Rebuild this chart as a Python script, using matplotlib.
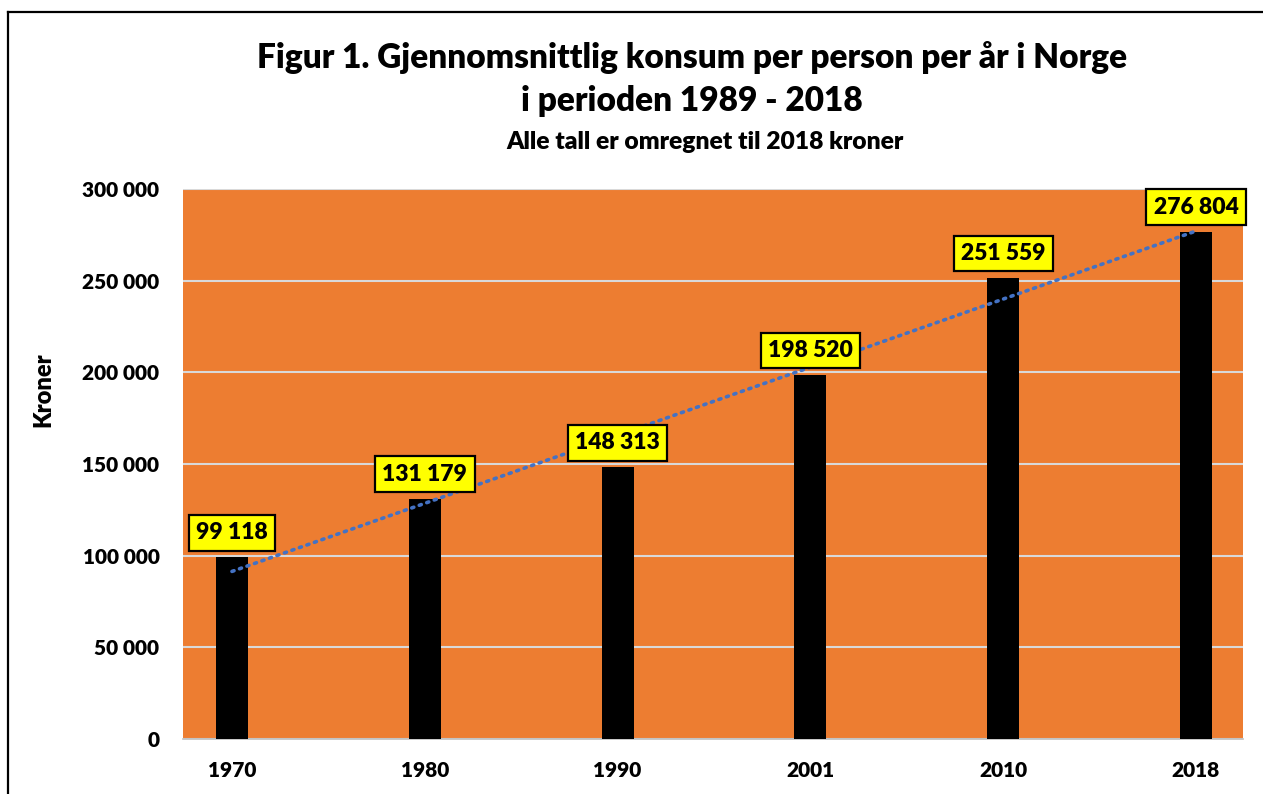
import matplotlib.pyplot as plt
import numpy as np
from matplotlib.lines import Line2D

# data
years = ['1970', '1980', '1990', '2001', '2010', '2018']
konsum = [99118, 131179, 148313, 198520, 251559, 276804]
yticks = [0, 50000, 100000, 150000, 200000, 250000, 300000]

plt.rcParams['font.family'] = ['Lato', 'DejaVu Sans']
W = 'heavy'


def fmt(v):
    # norsk tusenskille med mellomrom
    return f'{v:,}'.replace(',', ' ')


fig = plt.figure(figsize=(12.63, 7.94), dpi=100)
ax = fig.add_axes([183 / 1263, 1 - 739 / 794, (1243 - 183) / 1263, (739 - 189) / 794])

x = np.arange(len(years))
ax.set_facecolor('#ED7D31')
ax.bar(x, konsum, width=0.166, color='black', zorder=3)

# lineær trendlinje
k, m = np.polyfit(x, konsum, 1)
ax.plot(x, k * x + m, linestyle=(0, (0.6, 1.6)), color='#4472C4', lw=2.6,
        dash_capstyle='round', zorder=5)

for xi, v in zip(x, konsum):
    ax.annotate(fmt(v), xy=(xi, v), xytext=(0, 10), textcoords='offset points',
                ha='center', va='bottom', fontsize=16.5, fontweight=W,
                bbox=dict(boxstyle='square,pad=0.32', fc='#FFFF00', ec='black', lw=1.6),
                zorder=6)

ax.set_xlim(-0.254, 5.244)
ax.set_ylim(0, 300000)
ax.set_yticks(yticks)
ax.set_yticklabels([fmt(t) for t in yticks], fontsize=15, fontweight=W)
ax.set_xticks(x)
ax.set_xticklabels(years, fontsize=15, fontweight=W)
ax.tick_params(length=0, pad=16)
ax.tick_params(axis='y', pad=17)
ax.grid(axis='y', color='#D9D9D9', lw=1.5, zorder=1)
for s in ['top', 'right', 'left']:
    ax.spines[s].set_visible(False)
ax.spines['bottom'].set_color('#BFBFBF')
ax.spines['bottom'].set_linewidth(1.2)

ax.set_ylabel('Kroner', fontsize=17, fontweight=W)
ax.yaxis.set_label_coords(-0.121, 0.635)

fig.text(0.548, 1 - 58 / 794, 'Figur 1. Gjennomsnittlig konsum per person per år i Norge',
         ha='center', va='center', fontsize=24, fontweight=W)
fig.text(0.548, 1 - 101 / 794, 'i perioden 1989 - 2018',
         ha='center', va='center', fontsize=24, fontweight=W)
fig.text(0.558, 1 - 142 / 794, 'Alle tall er omregnet til 2018 kroner',
         ha='center', va='center', fontsize=17.7, fontweight=W)

# ramme rundt figuren (høyre og nedre kant er utenfor bildet)
x0 = 8 / 1263
y0 = 1 - 12 / 794
fig.add_artist(Line2D([x0, x0], [0, y0], color='black', lw=1.6, transform=fig.transFigure))
fig.add_artist(Line2D([x0, 1], [y0, y0], color='black', lw=1.6, transform=fig.transFigure))

fig.savefig('out.png', dpi=100, facecolor='white')
